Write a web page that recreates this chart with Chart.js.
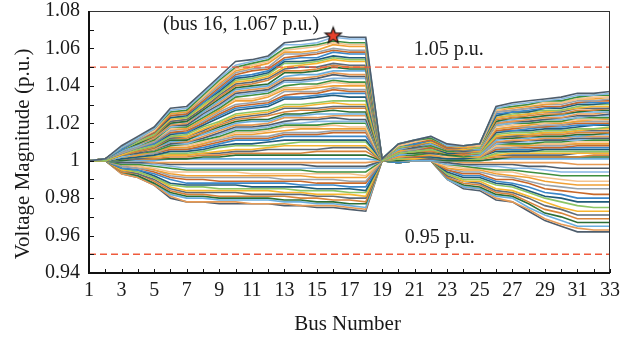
<!DOCTYPE html>
<html>
<head>
<meta charset="utf-8">
<script src="https://cdn.jsdelivr.net/npm/chart.js@4.4.1/dist/chart.umd.min.js"></script>
<style>
  html, body { margin: 0; padding: 0; background: #fff; }
  canvas { display: block; }
</style>
</head>
<body>
<canvas id="chart" width="621" height="338"></canvas>
<script>
// bus numbers on the x axis
var buses = [1,2,3,4,5,6,7,8,9,10,11,12,13,14,15,16,17,18,19,20,21,22,23,24,25,26,27,28,29,30,31,32,33];
var busTicks = [1,3,5,7,9,11,13,15,17,19,21,23,25,27,29,31,33];
var voltTicks = [0.94,0.96,0.98,1.00,1.02,1.04,1.06,1.08];

// voltage limits (p.u.)
var upperLimit = 1.05;
var lowerLimit = 0.95;
var peak = {bus: 16, v: 1.067};
var notes = ['(bus 16, 1.067 p.u.)', '1.05 p.u.', '0.95 p.u.'];

// voltage profiles, highest first
var up100 = [1.000,1.001,1.008,1.013,1.018,1.028,1.029,1.037,1.045,1.053,1.054,1.056,1.063,1.064,1.065,1.067,1.066,1.066,1.001,1.009,1.011,1.013,1.009,1.008,1.009,1.029,1.031,1.032,1.033,1.034,1.036,1.036,1.037];
var up98 = [1.000,1.001,1.007,1.012,1.017,1.027,1.028,1.036,1.044,1.051,1.053,1.055,1.062,1.062,1.063,1.066,1.065,1.065,1.001,1.009,1.011,1.013,1.008,1.008,1.009,1.028,1.030,1.031,1.032,1.033,1.035,1.035,1.036];
var up96 = [1.000,1.001,1.007,1.012,1.017,1.026,1.027,1.035,1.043,1.050,1.052,1.054,1.060,1.061,1.062,1.064,1.063,1.063,1.001,1.009,1.011,1.012,1.008,1.008,1.009,1.028,1.029,1.030,1.032,1.032,1.034,1.035,1.035];
var up94 = [1.000,1.001,1.007,1.012,1.016,1.026,1.027,1.034,1.042,1.049,1.051,1.053,1.059,1.060,1.061,1.063,1.062,1.062,1.001,1.008,1.010,1.012,1.008,1.008,1.008,1.027,1.029,1.030,1.031,1.031,1.033,1.034,1.034];
var up92 = [1.000,1.001,1.007,1.012,1.016,1.025,1.026,1.034,1.041,1.048,1.050,1.052,1.058,1.058,1.059,1.062,1.061,1.061,1.001,1.008,1.010,1.012,1.008,1.007,1.008,1.027,1.028,1.029,1.030,1.031,1.033,1.033,1.034];
var up90 = [1.000,1.001,1.007,1.011,1.016,1.025,1.026,1.033,1.040,1.047,1.049,1.050,1.057,1.057,1.058,1.060,1.059,1.059,1.001,1.008,1.010,1.012,1.008,1.007,1.008,1.026,1.027,1.028,1.030,1.030,1.032,1.032,1.033];
var up88 = [1.000,1.001,1.007,1.011,1.015,1.024,1.025,1.032,1.039,1.046,1.048,1.049,1.055,1.056,1.057,1.059,1.058,1.058,1.001,1.008,1.010,1.011,1.007,1.007,1.008,1.026,1.027,1.028,1.029,1.029,1.031,1.032,1.032];
var up86 = [1.000,1.001,1.006,1.011,1.015,1.024,1.025,1.031,1.038,1.045,1.046,1.048,1.054,1.055,1.055,1.058,1.057,1.057,1.001,1.008,1.009,1.011,1.007,1.007,1.008,1.025,1.026,1.027,1.028,1.029,1.031,1.031,1.031];
var up84 = [1.000,1.001,1.006,1.011,1.015,1.023,1.024,1.031,1.037,1.044,1.045,1.047,1.053,1.053,1.054,1.056,1.055,1.055,1.001,1.008,1.009,1.011,1.007,1.007,1.008,1.024,1.026,1.026,1.028,1.028,1.030,1.030,1.031];
var up82 = [1.000,1.001,1.006,1.010,1.014,1.023,1.023,1.030,1.036,1.043,1.044,1.046,1.052,1.052,1.053,1.055,1.054,1.054,1.001,1.007,1.009,1.011,1.007,1.007,1.007,1.024,1.025,1.026,1.027,1.027,1.029,1.030,1.030];
var up80 = [1.000,1.001,1.006,1.010,1.014,1.022,1.023,1.029,1.036,1.042,1.043,1.045,1.050,1.051,1.052,1.054,1.053,1.053,1.001,1.007,1.009,1.010,1.007,1.006,1.007,1.023,1.024,1.025,1.026,1.027,1.028,1.029,1.029];
var up78 = [1.000,1.001,1.006,1.010,1.014,1.021,1.022,1.028,1.035,1.041,1.042,1.044,1.049,1.050,1.050,1.052,1.051,1.051,1.001,1.007,1.009,1.010,1.007,1.006,1.007,1.023,1.024,1.025,1.026,1.026,1.028,1.028,1.028];
var up76 = [1.000,1.001,1.006,1.010,1.013,1.021,1.022,1.028,1.034,1.040,1.041,1.043,1.048,1.048,1.049,1.051,1.050,1.050,1.001,1.007,1.008,1.010,1.006,1.006,1.007,1.022,1.023,1.024,1.025,1.025,1.027,1.027,1.028];
var up74 = [1.000,1.001,1.006,1.009,1.013,1.020,1.021,1.027,1.033,1.039,1.040,1.041,1.047,1.047,1.048,1.050,1.049,1.049,1.001,1.007,1.008,1.010,1.006,1.006,1.007,1.021,1.023,1.023,1.024,1.025,1.026,1.027,1.027];
var up72 = [1.000,1.001,1.005,1.009,1.013,1.020,1.021,1.026,1.032,1.038,1.039,1.040,1.045,1.046,1.046,1.048,1.048,1.048,1.001,1.006,1.008,1.009,1.006,1.006,1.006,1.021,1.022,1.023,1.024,1.024,1.026,1.026,1.026];
var up70 = [1.000,1.001,1.005,1.009,1.012,1.019,1.020,1.026,1.031,1.037,1.038,1.039,1.044,1.044,1.045,1.047,1.046,1.046,1.001,1.006,1.008,1.009,1.006,1.006,1.006,1.020,1.021,1.022,1.023,1.023,1.025,1.025,1.026];
var up68 = [1.000,1.001,1.005,1.009,1.012,1.019,1.019,1.025,1.030,1.036,1.037,1.038,1.043,1.043,1.044,1.046,1.045,1.045,1.001,1.006,1.007,1.009,1.006,1.005,1.006,1.020,1.021,1.021,1.022,1.023,1.024,1.024,1.025];
var up66 = [1.000,1.001,1.005,1.008,1.012,1.018,1.019,1.024,1.029,1.035,1.036,1.037,1.042,1.042,1.043,1.044,1.044,1.044,1.001,1.006,1.007,1.009,1.006,1.005,1.006,1.019,1.020,1.021,1.022,1.022,1.023,1.024,1.024];
var up64 = [1.000,1.001,1.005,1.008,1.011,1.018,1.018,1.023,1.028,1.034,1.035,1.036,1.040,1.041,1.041,1.043,1.042,1.042,1.001,1.006,1.007,1.008,1.005,1.005,1.006,1.019,1.020,1.020,1.021,1.021,1.023,1.023,1.023];
var up62 = [1.000,1.001,1.005,1.008,1.011,1.017,1.018,1.023,1.028,1.033,1.033,1.035,1.039,1.039,1.040,1.042,1.041,1.041,1.001,1.006,1.007,1.008,1.005,1.005,1.006,1.018,1.019,1.020,1.020,1.021,1.022,1.022,1.023];
var up60 = [1.000,1.001,1.005,1.008,1.011,1.017,1.017,1.022,1.027,1.032,1.032,1.034,1.038,1.038,1.039,1.040,1.040,1.040,1.001,1.005,1.007,1.008,1.005,1.005,1.005,1.017,1.018,1.019,1.020,1.020,1.021,1.022,1.022];
var up58 = [1.000,1.001,1.004,1.007,1.010,1.016,1.017,1.021,1.026,1.030,1.031,1.032,1.037,1.037,1.037,1.039,1.038,1.038,1.001,1.005,1.006,1.008,1.005,1.005,1.005,1.017,1.018,1.018,1.019,1.019,1.021,1.021,1.021];
var up56 = [1.000,1.001,1.004,1.007,1.010,1.015,1.016,1.020,1.025,1.029,1.030,1.031,1.035,1.036,1.036,1.038,1.037,1.037,1.001,1.005,1.006,1.007,1.005,1.004,1.005,1.016,1.017,1.018,1.018,1.019,1.020,1.020,1.020];
var up54 = [1.000,1.001,1.004,1.007,1.009,1.015,1.015,1.020,1.024,1.028,1.029,1.030,1.034,1.034,1.035,1.036,1.036,1.036,1.001,1.005,1.006,1.007,1.005,1.004,1.005,1.016,1.016,1.017,1.018,1.018,1.019,1.019,1.020];
var up52 = [1.000,1.001,1.004,1.007,1.009,1.014,1.015,1.019,1.023,1.027,1.028,1.029,1.033,1.033,1.034,1.035,1.034,1.034,1.001,1.005,1.006,1.007,1.004,1.004,1.005,1.015,1.016,1.016,1.017,1.017,1.018,1.019,1.019];
var up48 = [1.000,1.000,1.004,1.006,1.008,1.013,1.014,1.018,1.021,1.025,1.026,1.027,1.030,1.030,1.031,1.032,1.032,1.032,1.000,1.004,1.005,1.006,1.004,1.004,1.004,1.014,1.015,1.015,1.016,1.016,1.017,1.017,1.018];
var up46 = [1.000,1.000,1.003,1.006,1.008,1.013,1.013,1.017,1.020,1.024,1.025,1.026,1.029,1.029,1.030,1.031,1.030,1.030,1.000,1.004,1.005,1.006,1.004,1.004,1.004,1.013,1.014,1.014,1.015,1.015,1.016,1.017,1.017];
var up44 = [1.000,1.000,1.003,1.006,1.008,1.012,1.013,1.016,1.020,1.023,1.024,1.025,1.028,1.028,1.028,1.029,1.029,1.029,1.000,1.004,1.005,1.006,1.004,1.004,1.004,1.013,1.013,1.014,1.015,1.015,1.016,1.016,1.016];
var up42 = [1.000,1.000,1.003,1.005,1.007,1.012,1.012,1.015,1.019,1.022,1.023,1.024,1.026,1.027,1.027,1.028,1.028,1.028,1.000,1.004,1.005,1.005,1.004,1.003,1.004,1.012,1.013,1.013,1.014,1.014,1.015,1.015,1.015];
var up40 = [1.000,1.000,1.003,1.005,1.007,1.011,1.011,1.015,1.018,1.021,1.022,1.022,1.025,1.025,1.026,1.027,1.026,1.026,1.000,1.004,1.004,1.005,1.003,1.003,1.004,1.012,1.012,1.013,1.013,1.013,1.014,1.014,1.015];
var up38 = [1.000,1.000,1.003,1.005,1.007,1.010,1.011,1.014,1.017,1.020,1.021,1.021,1.024,1.024,1.025,1.025,1.025,1.025,1.000,1.003,1.004,1.005,1.003,1.003,1.003,1.011,1.012,1.012,1.013,1.013,1.013,1.014,1.014];
var up36 = [1.000,1.000,1.003,1.005,1.006,1.010,1.010,1.013,1.016,1.019,1.019,1.020,1.023,1.023,1.023,1.024,1.024,1.024,1.000,1.003,1.004,1.005,1.003,1.003,1.003,1.010,1.011,1.011,1.012,1.012,1.013,1.013,1.013];
var up34 = [1.000,1.000,1.003,1.004,1.006,1.009,1.010,1.012,1.015,1.018,1.018,1.019,1.021,1.022,1.022,1.023,1.022,1.022,1.000,1.003,1.004,1.004,1.003,1.003,1.003,1.010,1.010,1.011,1.011,1.011,1.012,1.012,1.012];
var up32 = [1.000,1.000,1.002,1.004,1.006,1.009,1.009,1.012,1.014,1.017,1.017,1.018,1.020,1.020,1.021,1.021,1.021,1.021,1.000,1.003,1.004,1.004,1.003,1.003,1.003,1.009,1.010,1.010,1.011,1.011,1.011,1.012,1.012];
var up30 = [1.000,1.000,1.002,1.004,1.005,1.008,1.009,1.011,1.013,1.016,1.016,1.017,1.019,1.019,1.019,1.020,1.020,1.020,1.000,1.003,1.003,1.004,1.003,1.002,1.003,1.009,1.009,1.009,1.010,1.010,1.011,1.011,1.011];
var up28 = [1.000,1.000,1.002,1.004,1.005,1.008,1.008,1.010,1.012,1.015,1.015,1.016,1.018,1.018,1.018,1.019,1.018,1.018,1.000,1.003,1.003,1.004,1.002,1.002,1.003,1.008,1.009,1.009,1.009,1.009,1.010,1.010,1.010];
var up26 = [1.000,1.000,1.002,1.003,1.005,1.007,1.007,1.009,1.012,1.014,1.014,1.015,1.016,1.017,1.017,1.017,1.017,1.017,1.000,1.002,1.003,1.003,1.002,1.002,1.002,1.008,1.008,1.008,1.009,1.009,1.009,1.009,1.009];
var up24 = [1.000,1.000,1.002,1.003,1.004,1.007,1.007,1.009,1.011,1.013,1.013,1.013,1.015,1.015,1.015,1.016,1.016,1.016,1.000,1.002,1.003,1.003,1.002,1.002,1.002,1.007,1.007,1.008,1.008,1.008,1.009,1.009,1.009];
var up22 = [1.000,1.000,1.002,1.003,1.004,1.006,1.006,1.008,1.010,1.012,1.012,1.012,1.014,1.014,1.014,1.015,1.015,1.015,1.000,1.002,1.002,1.003,1.002,1.002,1.002,1.006,1.007,1.007,1.007,1.007,1.008,1.008,1.008];
var up20 = [1.000,1.000,1.002,1.003,1.004,1.006,1.006,1.007,1.009,1.011,1.011,1.011,1.013,1.013,1.013,1.013,1.013,1.013,1.000,1.002,1.002,1.003,1.002,1.002,1.002,1.006,1.006,1.006,1.007,1.007,1.007,1.007,1.007];
var up17 = [1.000,1.000,1.001,1.002,1.003,1.005,1.005,1.006,1.008,1.009,1.009,1.010,1.011,1.011,1.011,1.011,1.011,1.011,1.000,1.002,1.002,1.002,1.001,1.001,1.002,1.005,1.005,1.005,1.006,1.006,1.006,1.006,1.006];
var up15 = [1.000,1.000,1.001,1.002,1.003,1.004,1.004,1.005,1.007,1.008,1.008,1.008,1.009,1.010,1.010,1.010,1.010,1.010,1.000,1.001,1.002,1.002,1.001,1.001,1.001,1.004,1.005,1.005,1.005,1.005,1.005,1.005,1.005];
var up12 = [1.000,1.000,1.001,1.002,1.002,1.003,1.003,1.004,1.005,1.006,1.006,1.007,1.008,1.008,1.008,1.008,1.008,1.008,1.000,1.001,1.001,1.002,1.001,1.001,1.001,1.003,1.004,1.004,1.004,1.004,1.004,1.004,1.004];
var up10 = [1.000,1.000,1.001,1.001,1.002,1.003,1.003,1.004,1.004,1.005,1.005,1.006,1.006,1.006,1.006,1.007,1.007,1.007,1.000,1.001,1.001,1.001,1.001,1.001,1.001,1.003,1.003,1.003,1.003,1.003,1.004,1.004,1.004];
var up07 = [1.000,1.000,1.001,1.001,1.001,1.002,1.002,1.003,1.003,1.004,1.004,1.004,1.004,1.004,1.005,1.005,1.005,1.005,1.000,1.001,1.001,1.001,1.001,1.001,1.001,1.002,1.002,1.002,1.002,1.002,1.002,1.003,1.003];
var up05 = [1.000,1.000,1.000,1.001,1.001,1.001,1.001,1.002,1.002,1.003,1.003,1.003,1.003,1.003,1.003,1.003,1.003,1.003,1.000,1.000,1.001,1.001,1.000,1.000,1.000,1.001,1.002,1.002,1.002,1.002,1.002,1.002,1.002];
var up02 = [1.000,1.000,1.000,1.000,1.000,1.001,1.001,1.001,1.001,1.001,1.001,1.001,1.001,1.001,1.001,1.001,1.001,1.001,1.000,1.000,1.000,1.000,1.000,1.000,1.000,1.001,1.001,1.001,1.001,1.001,1.001,1.001,1.001];
var dn04 = [1.000,1.000,1.000,1.000,0.999,0.999,0.999,0.999,0.999,0.999,0.999,0.999,0.999,0.999,0.999,0.999,0.999,0.999,1.000,1.000,1.000,1.000,1.000,0.999,0.999,0.999,0.999,0.999,0.999,0.999,0.998,0.998,0.998];
var dn10 = [1.000,1.000,0.999,0.999,0.999,0.998,0.998,0.998,0.998,0.998,0.998,0.998,0.998,0.998,0.997,0.997,0.997,0.997,1.000,1.000,1.000,1.000,0.999,0.998,0.998,0.998,0.998,0.997,0.997,0.996,0.996,0.996,0.996];
var dn16 = [1.000,1.000,0.999,0.999,0.998,0.997,0.996,0.996,0.996,0.996,0.996,0.996,0.996,0.996,0.996,0.996,0.996,0.996,1.000,1.000,1.000,1.000,0.998,0.998,0.997,0.997,0.996,0.996,0.995,0.994,0.994,0.994,0.994];
var dn22 = [1.000,1.000,0.998,0.998,0.997,0.996,0.995,0.995,0.995,0.995,0.995,0.995,0.995,0.995,0.994,0.994,0.994,0.994,1.000,1.000,1.000,1.000,0.998,0.997,0.996,0.995,0.995,0.994,0.993,0.992,0.992,0.992,0.992];
var dn28 = [1.000,1.000,0.998,0.997,0.996,0.994,0.994,0.994,0.994,0.994,0.993,0.993,0.993,0.993,0.993,0.993,0.993,0.992,1.000,1.000,1.000,1.000,0.997,0.996,0.996,0.994,0.994,0.992,0.991,0.990,0.989,0.989,0.989];
var dn34 = [1.000,1.000,0.998,0.997,0.995,0.993,0.992,0.992,0.992,0.992,0.992,0.992,0.992,0.992,0.991,0.991,0.991,0.991,1.000,1.000,1.000,1.000,0.996,0.995,0.995,0.993,0.992,0.991,0.989,0.988,0.987,0.987,0.987];
var dn40 = [1.000,1.000,0.997,0.996,0.995,0.992,0.991,0.991,0.991,0.991,0.991,0.991,0.990,0.990,0.990,0.990,0.989,0.989,1.000,1.000,1.000,1.000,0.996,0.994,0.994,0.992,0.991,0.989,0.987,0.986,0.985,0.985,0.985];
var dn46 = [1.000,1.000,0.997,0.996,0.994,0.991,0.990,0.990,0.989,0.989,0.989,0.989,0.989,0.989,0.988,0.988,0.988,0.988,1.000,1.000,1.000,1.000,0.995,0.993,0.993,0.990,0.990,0.988,0.985,0.984,0.983,0.982,0.982];
var dn52 = [1.000,1.000,0.996,0.995,0.993,0.990,0.988,0.988,0.988,0.988,0.988,0.988,0.988,0.987,0.987,0.987,0.986,0.986,1.000,0.999,1.000,1.000,0.995,0.992,0.992,0.989,0.988,0.986,0.983,0.982,0.980,0.980,0.980];
var dn58 = [1.000,1.000,0.996,0.995,0.992,0.988,0.987,0.987,0.987,0.987,0.986,0.986,0.986,0.986,0.985,0.985,0.985,0.984,1.000,0.999,1.000,1.000,0.994,0.991,0.991,0.988,0.987,0.984,0.981,0.980,0.978,0.978,0.978];
var dn64 = [1.000,1.000,0.996,0.994,0.991,0.987,0.986,0.986,0.985,0.985,0.985,0.985,0.985,0.984,0.984,0.984,0.983,0.983,1.000,0.999,1.000,1.000,0.993,0.990,0.990,0.987,0.986,0.983,0.980,0.978,0.976,0.975,0.975];
var dn70 = [1.000,1.000,0.995,0.994,0.991,0.986,0.984,0.984,0.984,0.984,0.984,0.984,0.983,0.983,0.982,0.982,0.982,0.981,1.000,0.999,1.000,1.000,0.993,0.989,0.989,0.985,0.984,0.981,0.978,0.975,0.973,0.973,0.973];
var dn75 = [1.000,1.000,0.995,0.993,0.990,0.985,0.983,0.983,0.983,0.983,0.982,0.982,0.982,0.982,0.981,0.981,0.980,0.980,1.000,0.999,1.000,1.000,0.992,0.989,0.988,0.984,0.983,0.980,0.976,0.974,0.971,0.971,0.971];
var dn81 = [1.000,1.000,0.994,0.993,0.989,0.984,0.982,0.982,0.981,0.981,0.981,0.981,0.981,0.980,0.980,0.979,0.979,0.978,1.000,0.999,1.000,1.000,0.991,0.988,0.987,0.983,0.982,0.978,0.974,0.972,0.969,0.969,0.969];
var dn86 = [1.000,1.000,0.994,0.992,0.988,0.983,0.981,0.981,0.980,0.980,0.980,0.980,0.979,0.979,0.978,0.978,0.977,0.977,1.000,0.999,1.000,1.000,0.991,0.987,0.986,0.982,0.981,0.977,0.972,0.970,0.967,0.967,0.967];
var dn91 = [1.000,1.000,0.994,0.992,0.988,0.982,0.980,0.980,0.979,0.979,0.979,0.979,0.978,0.978,0.977,0.977,0.976,0.975,1.000,0.999,1.000,1.000,0.990,0.986,0.985,0.981,0.980,0.975,0.971,0.968,0.965,0.965,0.965];
var dn96 = [1.000,1.000,0.993,0.991,0.987,0.981,0.978,0.978,0.978,0.978,0.977,0.977,0.977,0.976,0.976,0.976,0.975,0.974,1.000,0.999,1.000,1.000,0.990,0.986,0.985,0.980,0.978,0.974,0.969,0.966,0.964,0.963,0.963];
var dn100 = [1.000,1.000,0.993,0.991,0.987,0.980,0.978,0.978,0.977,0.977,0.977,0.977,0.976,0.976,0.975,0.975,0.974,0.973,1.000,0.999,1.000,1.000,0.990,0.985,0.984,0.979,0.978,0.973,0.968,0.965,0.962,0.962,0.962];

var cases = [up100,up98,up96,up94,up92,up90,up88,up86,up84,up82,up80,up78,up76,up74,up72,up70,
  up68,up66,up64,up62,up60,up58,up56,up54,up52,up48,up46,up44,up42,up40,up38,up36,up34,up32,up30,
  up28,up26,up24,up22,up20,up17,up15,up12,up10,up07,up05,up02,
  dn04,dn10,dn16,dn22,dn28,dn34,dn40,dn46,dn52,dn58,dn64,dn70,dn75,dn81,dn86,dn91,dn96,dn100];

var colors = ['#4e5d6c','#86b7e3','#3e8f3e','#f4c38e','#f0a035','#9aa3ab','#c8682a','#3b87c9',
  '#1f5b7a','#8cc565','#f7b52f','#5e6b78','#d8843c','#2c6e34','#6aaede','#e69a55'];

var serif = 'Liberation Serif';
var limitColor = '#ef5a3c';

// red star marker for the peak
var star = document.createElement('canvas');
star.width = 20;
star.height = 20;
var sctx = star.getContext('2d');
sctx.beginPath();
for (var i = 0; i < 10; i++) {
  var r = (i % 2 === 0) ? 8.5 : 3.6;
  var a = -Math.PI / 2 + i * Math.PI / 5;
  var px = 10 + r * Math.cos(a), py = 10.5 + r * Math.sin(a);
  if (i === 0) sctx.moveTo(px, py); else sctx.lineTo(px, py);
}
sctx.closePath();
sctx.fillStyle = '#e8412c';
sctx.fill();
sctx.lineWidth = 1.2;
sctx.strokeStyle = '#111';
sctx.stroke();

var datasets = [];
datasets.push({
  data: [{x: peak.bus, y: peak.v}],
  showLine: false,
  pointStyle: star,
  pointRadius: 10
});
datasets.push({
  data: [{x: buses[0], y: upperLimit}, {x: buses[buses.length - 1], y: upperLimit}],
  borderColor: limitColor, borderWidth: 1.4, borderDash: [7, 4], pointRadius: 0
});
datasets.push({
  data: [{x: buses[0], y: lowerLimit}, {x: buses[buses.length - 1], y: lowerLimit}],
  borderColor: limitColor, borderWidth: 1.4, borderDash: [7, 4], pointRadius: 0
});
for (var k = 0; k < cases.length; k++) {
  datasets.push({
    data: cases[k],
    borderColor: colors[k % colors.length],
    borderWidth: 1.6,
    pointRadius: 0
  });
}

var decor = {
  id: 'decor',
  afterDraw: function(chart) {
    var ctx = chart.ctx;
    var a = chart.chartArea;
    var xs = chart.scales.x, ys = chart.scales.y;
    ctx.save();

    // inward tick marks
    ctx.strokeStyle = '#111';
    ctx.lineWidth = 1;
    ctx.beginPath();
    for (var b = 0; b < buses.length; b++) {
      var tx = Math.round(xs.getPixelForValue(buses[b])) + 0.5;
      ctx.moveTo(tx, a.bottom);
      ctx.lineTo(tx, a.bottom - 4);
    }
    for (var m = 0; m <= 14; m++) {
      var ty = Math.round(ys.getPixelForValue(0.94 + m * 0.01)) + 0.5;
      ctx.moveTo(a.left, ty);
      ctx.lineTo(a.left + 5, ty);
    }
    ctx.stroke();

    // frame
    ctx.lineWidth = 1;
    ctx.strokeStyle = '#333';
    ctx.strokeRect(a.left + 0.5, a.top + 0.5, a.right - a.left - 1, a.bottom - a.top);
    ctx.lineWidth = 2;
    ctx.strokeStyle = '#111';
    ctx.beginPath();
    ctx.moveTo(a.left, a.top);
    ctx.lineTo(a.left, a.bottom);
    ctx.lineTo(a.right, a.bottom);
    ctx.stroke();

    // notes
    ctx.fillStyle = '#1a1a1a';
    ctx.font = '20px "' + serif + '"';
    ctx.textBaseline = 'alphabetic';
    ctx.textAlign = 'right';
    ctx.fillText(notes[0], xs.getPixelForValue(peak.bus) - 14, ys.getPixelForValue(peak.v) - 5);
    ctx.textAlign = 'left';
    ctx.fillText(notes[1], xs.getPixelForValue(21) - 1, ys.getPixelForValue(upperLimit) - 12);
    ctx.fillText(notes[2], xs.getPixelForValue(20.4), ys.getPixelForValue(lowerLimit) - 11);

    // axis titles
    ctx.font = '21px "' + serif + '"';
    ctx.textAlign = 'center';
    ctx.fillText('Bus Number', (a.left + a.right) / 2 - 2, 330);
    ctx.translate(29, (a.top + a.bottom) / 2 + 12);
    ctx.rotate(-Math.PI / 2);
    ctx.fillText('Voltage Magnitude (p.u.)', 0, 0);
    ctx.restore();
  }
};

var chart = new Chart(document.getElementById('chart'), {
  type: 'line',
  data: { labels: buses, datasets: datasets },
  options: {
    responsive: false,
    animation: false,
    events: [],
    layout: { padding: { left: 0, right: 9, top: 8, bottom: 0 } },
    elements: { line: { tension: 0 } },
    plugins: { legend: { display: false }, tooltip: { enabled: false } },
    scales: {
      x: {
        type: 'linear',
        min: 1,
        max: 33,
        afterBuildTicks: function(s) { s.ticks = busTicks.map(function(v) { return {value: v}; }); },
        afterFit: function(s) { s.height = 65; s.paddingLeft = 0; s.paddingRight = 0; },
        grid: { display: false, drawTicks: false },
        border: { display: false },
        ticks: { color: '#1a1a1a', padding: 6, maxRotation: 0, autoSkip: false, font: { family: serif, size: 20 } }
      },
      y: {
        min: 0.94,
        max: 1.08,
        afterBuildTicks: function(s) { s.ticks = voltTicks.map(function(v) { return {value: v}; }); },
        afterFit: function(s) { s.width = 89; s.paddingTop = 0; s.paddingBottom = 0; },
        grid: { display: false, drawTicks: false },
        border: { display: false },
        ticks: {
          color: '#1a1a1a', padding: 9, font: { family: serif, size: 20 },
          callback: function(v) { return String(+v.toFixed(2)); }
        }
      }
    }
  },
  plugins: [decor]
});
</script>
</body>
</html>
